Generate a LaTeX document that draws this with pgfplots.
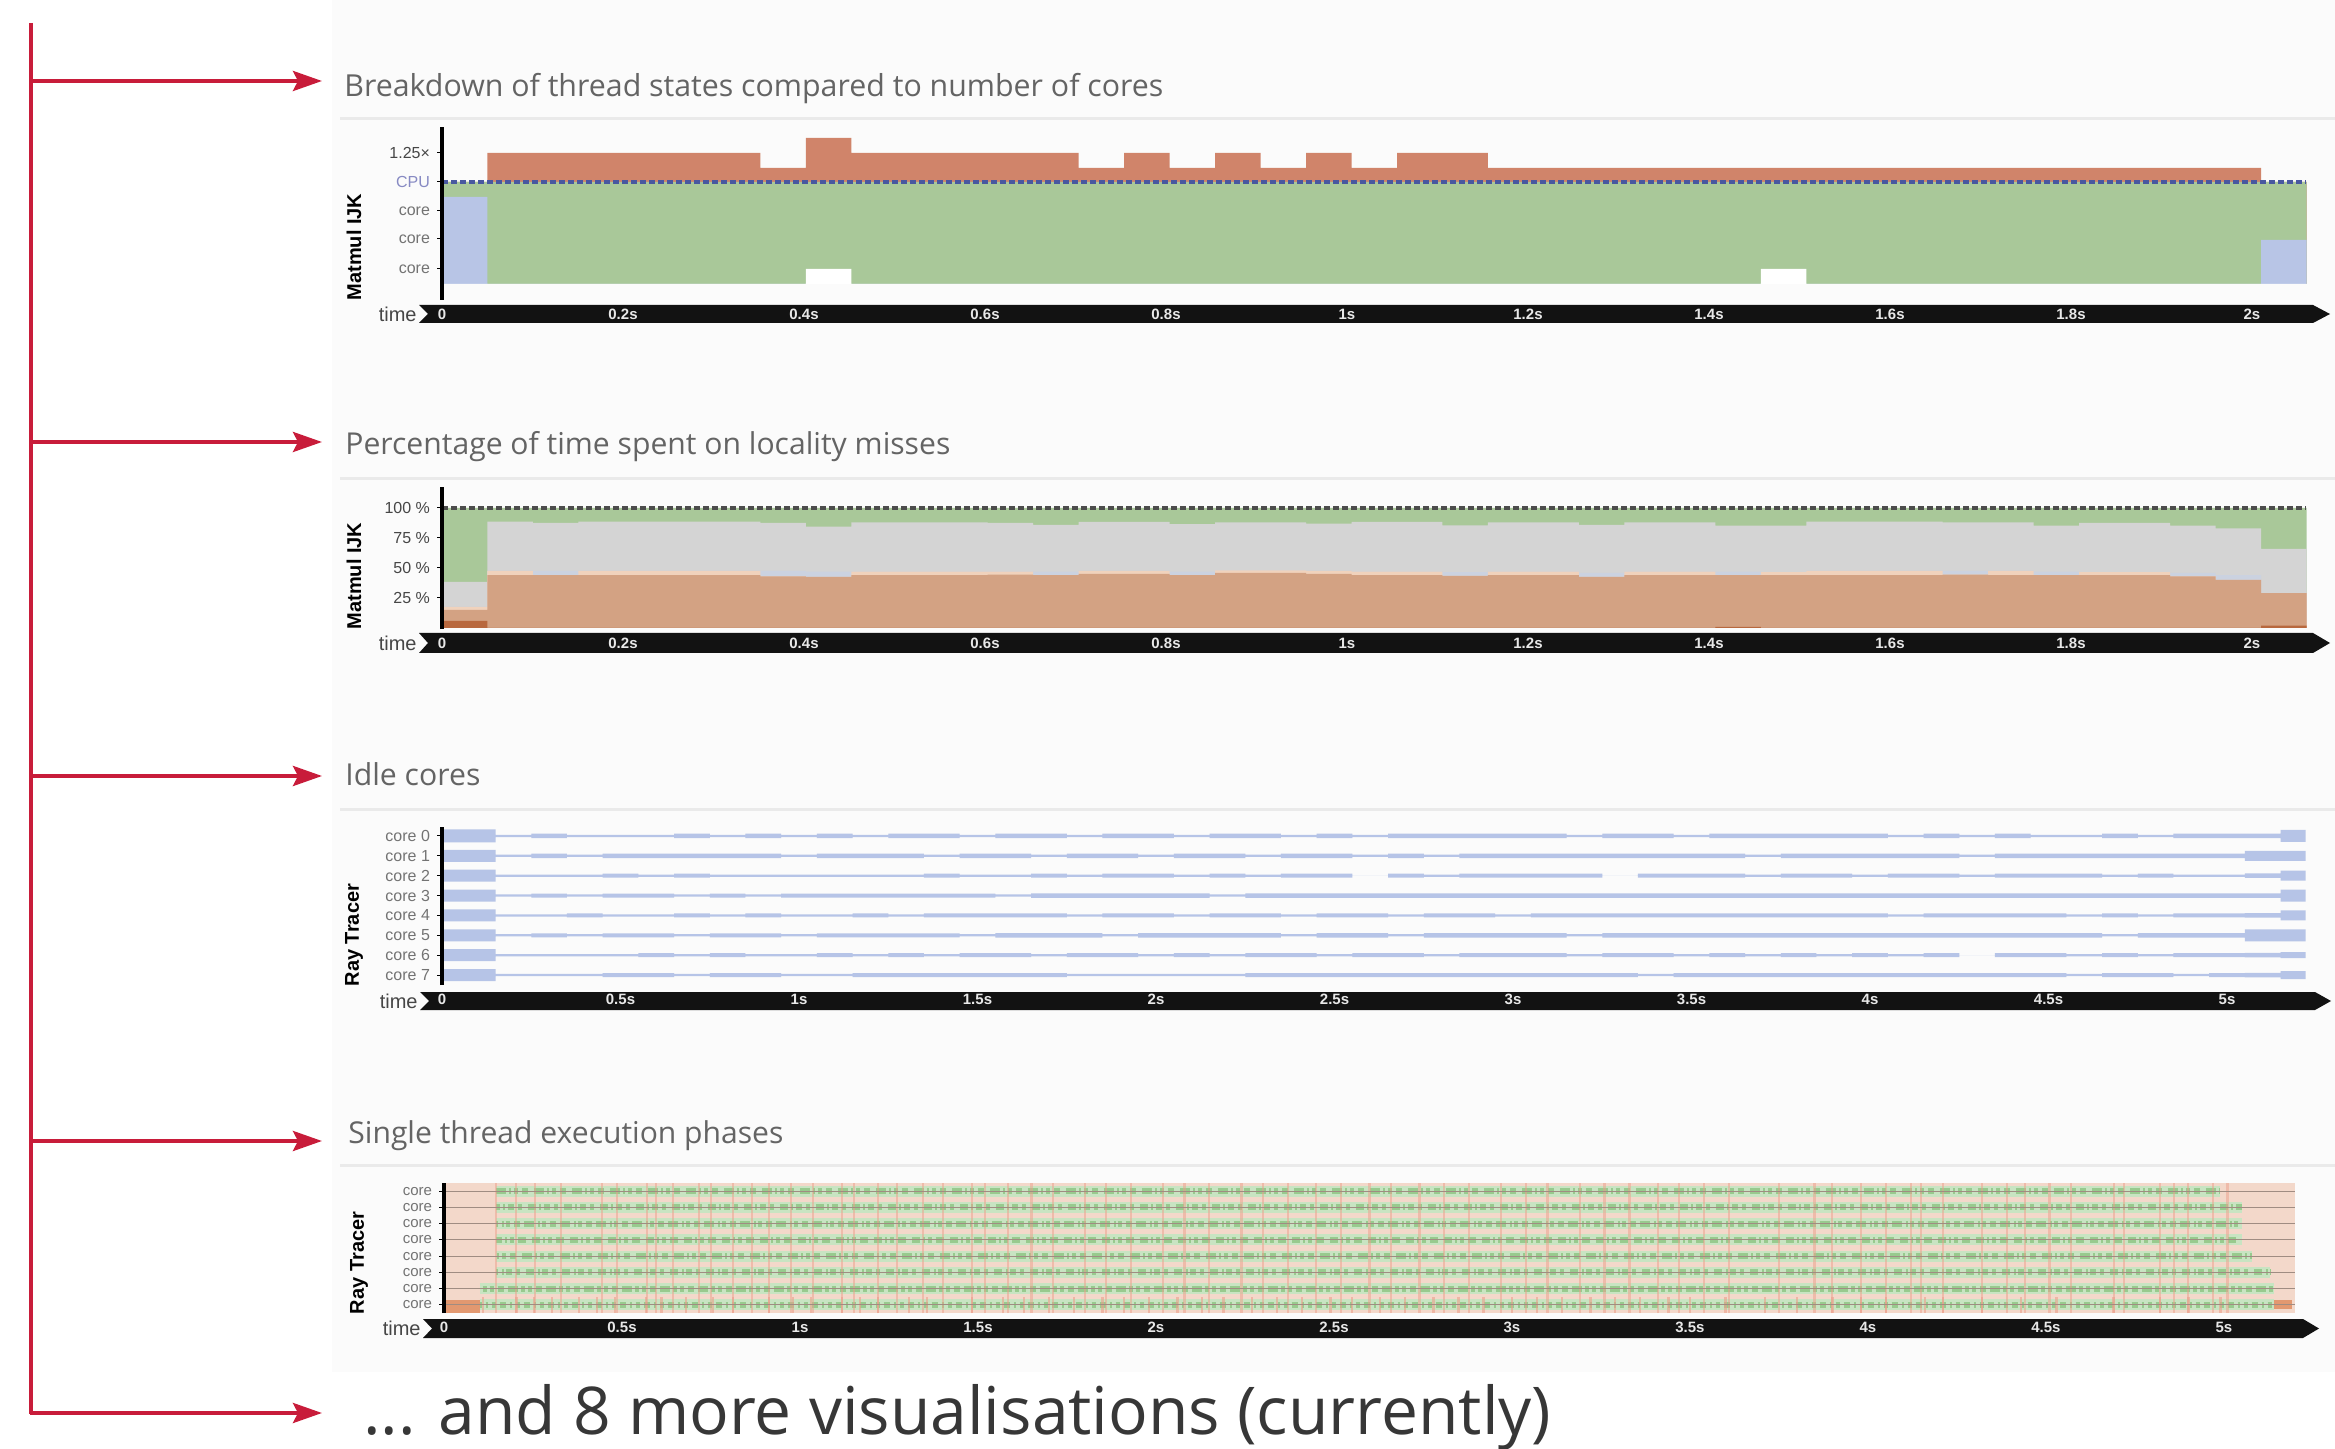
\documentclass[border=0pt]{standalone}
\usepackage{fontspec}
\setmainfont{Liberation Sans}
\newfontfamily\titlefont{Open Sans}
\usepackage{graphicx}
\usepackage{pgfplots}
\pgfplotsset{compat=1.18}
\usepackage{pgfplotstable}
\usetikzlibrary{arrows.meta}

\definecolor{arrowred}{RGB}{200,28,58}
\definecolor{bgcol}{RGB}{251,251,251}
\definecolor{sepgray}{RGB}{234,234,234}
\definecolor{titlegray}{RGB}{100,100,100}
\definecolor{bottomtext}{RGB}{55,55,55}
\definecolor{barblack}{RGB}{18,18,18}
\definecolor{tgreen}{RGB}{169,200,153}
\definecolor{tred}{RGB}{208,132,106}
\definecolor{tblue}{RGB}{184,197,230}
\definecolor{cpublue}{RGB}{72,88,160}
\definecolor{cpulabel}{RGB}{135,138,195}
\definecolor{darklab}{RGB}{70,70,70}
\definecolor{ticklab}{RGB}{115,115,115}
\definecolor{lgray}{RGB}{212,212,212}
\definecolor{ltan}{RGB}{211,162,131}
\definecolor{dorange}{RGB}{184,104,62}
\definecolor{peach}{RGB}{240,210,188}
\definecolor{bgray}{RGB}{203,210,224}
\definecolor{idleblue}{RGB}{182,196,231}
\definecolor{salmonbg}{RGB}{243,216,202}
\definecolor{stripe}{RGB}{236,160,140}
\definecolor{phgreen}{RGB}{200,228,194}
\definecolor{phdash}{RGB}{152,202,142}
\definecolor{phorange}{RGB}{226,152,112}
\definecolor{rowline}{RGB}{160,140,130}
\definecolor{barlab}{RGB}{232,232,232}

% Panel 1: tops of stacked thread-state areas (pixel units above the base)
\pgfplotstableread{
t gap blue green red
0 0 87 102 102
0.05 0 0 102 131
0.35 0 0 102 116
0.40 15 0 102 146
0.45 0 0 102 131
0.70 0 0 102 116
0.75 0 0 102 131
0.80 0 0 102 116
0.85 0 0 102 131
0.90 0 0 102 116
0.95 0 0 102 131
1.00 0 0 102 116
1.05 0 0 102 131
1.15 0 0 102 116
1.45 15 0 102 116
1.50 0 0 102 116
2.00 0 44 102 102
2.05 0 44 102 102
}\threads

% Panel 2: cumulative tops (percent)
\pgfplotstableread{
t a b c d e
0.00 6 15 17.5 17.5 38.5
0.05 0 44 47.5 47.5 88.6
0.10 0 44 44 47.5 87.5
0.15 0 44 47.5 47.5 88.6
0.20 0 44 47.5 47.5 88.6
0.25 0 44 47.5 47.5 88.6
0.30 0 44 47.5 47.5 88.6
0.35 0 43 43 47.5 87.5
0.40 0 42.5 42.5 47 84.4
0.45 0 44 47 47 88
0.50 0 44 47 47 88
0.55 0 44 47 47 88
0.60 0 44.5 47 47 87.5
0.65 0 44 44 47 86
0.70 0 45 47.5 47.5 88.5
0.75 0 45 47.5 47.5 88.5
0.80 0 44 44 47 86.5
0.85 0 46 48 48 88
0.90 0 46 48 48 88
0.95 0 45 47.5 47.5 87
1.00 0 44 47 47 88.5
1.05 0 44 47 47 88.5
1.10 0 43.5 43.5 46.5 85.5
1.15 0 44 47 47 88
1.20 0 44 47 47 88
1.25 0 42.5 42.5 46 86
1.30 0 44 47 47 88
1.35 0 44 47 47 88
1.40 1 44 44 47 85.3
1.45 0 44 46.5 46.5 85.3
1.50 0 44 47.5 47.5 88.6
1.55 0 44 47.5 47.5 88.6
1.60 0 44 47.5 47.5 88.6
1.65 0 44.5 44.5 47.5 88
1.70 0 44 47.5 47.5 88
1.75 0 44 44 47 85.3
1.80 0 44 46.5 46.5 87.5
1.85 0 44 46.5 46.5 87.5
1.90 0 43 43 46 85.3
1.95 0 40 40 44 83
2.00 2 29 29 29 66
2.05 2 29 29 29 66
}\loc

% Panel 3: idle band thickness (px) per core
\pgfplotstableread{
t c0 c1 c2 c3 c4 c5 c6 c7
0 13 12 12 12 12 12 12 12
0.15 2.3 2.3 2.3 2.3 2.3 2.3 2.3 2.3
0.25 4.5 4.5 2.3 4 2.3 4 2.3 2.3
0.35 2.3 2.3 2.3 2.3 4 2.3 2.3 2.3
0.45 2.3 4.5 4 4 2.3 4 2.3 4
0.55 2.3 4.5 2.3 4 2.3 4 4 4
0.65 4.5 4.5 4 2.3 4 2.3 2.3 2.3
0.75 2.3 4.5 2.3 4 2.3 4 4 4
0.85 4.5 4.5 2.3 2.3 4 4 2.3 4
0.95 2.3 2.3 2.3 4 2.3 2.3 2.3 2.3
1.05 4.5 4.5 2.3 4 2.3 4 4 2.3
1.15 2.3 4.5 2.3 4 4 4 2.3 4
1.25 4.5 4.5 2.3 4 2.3 4 4 4
1.35 4.5 2.3 4 4 4 4 2.3 4
1.45 2.3 4.5 2.3 4 4 2.3 4 4
1.55 4.5 4.5 2.3 2.3 4 4.5 4 4
1.65 4.5 2.3 4 4.5 4 4.5 2.3 4
1.75 2.3 4.5 2.3 4.5 2.3 4.5 4 2.3
1.85 4.5 4.5 4 4.5 4 2.3 4 2.3
1.95 4.5 2.3 4 4.5 4 4.5 2.3 2.3
2.05 2.3 4.5 2.3 4.5 2.3 4.5 4 2.3
2.15 4.5 4.5 4 2.3 4 4.5 2.3 2.3
2.25 4.5 2.3 2.3 4.5 4 4.5 4 4
2.35 2.3 4.5 4 4.5 2.3 2.3 4 4
2.45 4.5 4.5 4 4.5 4 4.5 2.3 4
2.55 2.3 2.3 0 4.5 4 4.5 4 4
2.65 4.5 4.5 4 4.5 2.3 2.3 4 4
2.75 4.5 2.3 2.3 4.5 4 4.5 2.3 4
2.85 4.5 4.5 4 4.5 4 4.5 4 4
2.95 4.5 4.5 4 4.5 2.3 4.5 4 4
3.05 4.5 4.5 4 4.5 4 4.5 4 4
3.15 2.3 4.5 4 4.5 4 2.3 2.3 4
3.25 4.5 4.5 0 4.5 4 4.5 4 4
3.35 4.5 4.5 4 4.5 4 4.5 4 2.3
3.45 2.3 4.5 4 4.5 4 4.5 2.3 4
3.55 4.5 4.5 4 4.5 4 4.5 4 4
3.65 4.5 2.3 2.3 4.5 4 4.5 2.3 4
3.75 4.5 4.5 4 4.5 4 4.5 4 4
3.85 4.5 4.5 4 4.5 4 4.5 2.3 4
3.95 4.5 4.5 2.3 4.5 4 4.5 4 4
4.05 2.3 4.5 4 4.5 2.3 4.5 2.3 4
4.15 4.5 4.5 4 4.5 4 4.5 4 4
4.25 2.3 2.3 2.3 4.5 4 4.5 0 4
4.35 4.5 4.5 4 4.5 4 4.5 4 4
4.45 2.3 4.5 4 4.5 4 4.5 4 4
4.55 2.3 4.5 4 4.5 2.3 4.5 2.3 2.3
4.65 4.5 4.5 2.3 4.5 4 2.3 4 4
4.75 2.3 4.5 4 4.5 2.3 4.5 2.3 4
4.85 4.5 4.5 2.3 4.5 4 4.5 4 2.3
4.95 4.5 4.5 2.3 4.5 4 4.5 4 4
5.05 4.5 10 4.5 4.5 4.5 12 4.5 4.5
5.15 12 10 10 12 10 12 6 8
5.22 12 10 10 12 10 12 4 5
}\idle

\pgfplotsset{
  panel/.style={
    scale only axis, anchor=south west, axis on top,
    axis x line*=bottom, axis y line*=left,
    x axis line style={draw=none},
    y axis line style={-, line width=1.7pt, black},
    tick align=outside, major tick length=2.5pt,
    xtick style={draw=none},
    ytick style={black, line width=0.5pt},
    xticklabel style={text=barlab, font=\fontsize{7.5}{8}\selectfont\bfseries, anchor=center, yshift=-4.6pt},
    yticklabel style={font=\fontsize{8}{9}\selectfont, text=ticklab},
    ylabel style={font=\fontsize{10}{11}\selectfont\bfseries, anchor=center, text=black},
  },
}

\newcommand{\timebar}[5]{%
  \fill[barblack] (#1,#4) -- (#2,#4) -- (#3,{(#4+#5)/2}) -- (#2,#5) -- (#1,#5) -- ({#1+9},{(#4+#5)/2}) -- cycle;
  \node[anchor=east, inner sep=0pt, font=\fontsize{10}{11}\selectfont, text=darklab] at ({#1-2},{(#4+#5)/2}) {time};
}

\begin{document}
\begin{tikzpicture}
\begin{scope}[x=0.5pt,y=-0.5pt,shift={(0pt,724pt)}]
  \fill[bgcol] (332,0) rectangle (2335,1372);
  \foreach \yy in {119,479,809,1165} {\draw[sepgray, line width=1.5pt] (340,\yy) -- (2335,\yy);}
  % red guide
  \draw[arrowred, line width=2pt] (31,23) -- (31,1414);
  \foreach \yy in {81,442,776,1141,1413} {
    \draw[arrowred, line width=2pt, -{Stealth[length=14.5pt,width=10pt,inset=2.5pt]}] (30,\yy) -- (322,\yy);
  }
  % titles
  \node[anchor=base west, inner sep=0pt, text=titlegray] at (344,97) {\resizebox{409.5pt}{!}{\titlefont\fontsize{15}{18}\selectfont Breakdown of thread states compared to number of cores}};
  \node[anchor=base west, inner sep=0pt, text=titlegray] at (345,455) {\resizebox{302.5pt}{!}{\titlefont\fontsize{15}{18}\selectfont Percentage of time spent on locality misses}};
  \node[anchor=base west, inner sep=0pt, text=titlegray] at (345,785) {\resizebox{67.5pt}{!}{\titlefont\fontsize{15}{18}\selectfont Idle cores}};
  \node[anchor=base west, inner sep=0pt, text=titlegray] at (348,1143) {\resizebox{217.5pt}{!}{\titlefont\fontsize{15}{18}\selectfont Single thread execution phases}};
  \node[anchor=base west, inner sep=0pt, text=bottomtext] at (363,1434) {\resizebox{594pt}{!}{\titlefont\fontsize{30}{36}\selectfont ... and 8 more visualisations (currently)}};
  % time bars
  \timebar{419}{2313}{2330}{305}{323}
  \timebar{419}{2313}{2330}{633}{653}
  \timebar{420}{2315}{2331}{992}{1010}
  \timebar{423}{2303}{2319}{1319}{1338}
\end{scope}

% ---------- Panel 1 ----------
\begin{axis}[panel, at={(221pt,574pt)}, width=934.4pt, height=86.5pt,
  xmin=0, xmax=2.065, ymin=-16, ymax=157,
  xtick={0,0.2,0.4,0.6,0.8,1,1.2,1.4,1.6,1.8,2},
  xticklabels={0,0.2s,0.4s,0.6s,0.8s,1s,1.2s,1.4s,1.6s,1.8s,2s},
  ytick={15,45,73,102,131},
  yticklabels={core,core,core,{\textcolor{cpulabel}{CPU}},{\textcolor{darklab}{1.25×}}},
  ylabel={Matmul IJK},
  ylabel style={at={(axis description cs:-0.0471,0.306)}}]
\addplot[const plot, fill=tred, draw=none] table[x expr=\thisrow{t}*1.005,y=red]{\threads} \closedcycle;
\addplot[const plot, fill=tgreen, draw=none] table[x expr=\thisrow{t}*1.005,y=green]{\threads} \closedcycle;
\addplot[const plot, fill=tblue, draw=none] table[x expr=\thisrow{t}*1.005,y=blue]{\threads} \closedcycle;
\addplot[const plot, fill=white, draw=none] table[x expr=\thisrow{t}*1.005,y=gap]{\threads} \closedcycle;
\addplot[cpublue, line width=1.6pt, dash pattern=on 3pt off 1.5pt] coordinates {(0,102) (2.06,102)};
\end{axis}

% ---------- Panel 2 ----------
\begin{axis}[panel, at={(221pt,409.4pt)}, width=934.4pt, height=71.1pt,
  xmin=0, xmax=2.065, ymin=-1, ymax=117.5,
  xtick={0,0.2,0.4,0.6,0.8,1,1.2,1.4,1.6,1.8,2},
  xticklabels={0,0.2s,0.4s,0.6s,0.8s,1s,1.2s,1.4s,1.6s,1.8s,2s},
  ytick={25,50,75,100},
  yticklabels={25 \%,50 \%,75 \%,100 \%},
  yticklabel style={text=darklab},
  ylabel={Matmul IJK},
  ylabel style={at={(axis description cs:-0.0471,0.374)}}]
\addplot[const plot, fill=tgreen, draw=none] table[x expr=\thisrow{t}*1.005,y expr=100]{\loc} \closedcycle;
\addplot[const plot, fill=lgray, draw=none] table[x expr=\thisrow{t}*1.005,y=e]{\loc} \closedcycle;
\addplot[const plot, fill=bgray, draw=none] table[x expr=\thisrow{t}*1.005,y=d]{\loc} \closedcycle;
\addplot[const plot, fill=peach, draw=none] table[x expr=\thisrow{t}*1.005,y=c]{\loc} \closedcycle;
\addplot[const plot, fill=ltan, draw=none] table[x expr=\thisrow{t}*1.005,y=b]{\loc} \closedcycle;
\addplot[const plot, fill=dorange, draw=none] table[x expr=\thisrow{t}*1.005,y=a]{\loc} \closedcycle;
\addplot[black!70, line width=1.6pt, dash pattern=on 3pt off 1.5pt] coordinates {(0,100) (2.06,100)};
\end{axis}

% ---------- Panel 3 ----------
\begin{axis}[panel, at={(221pt,231.5pt)}, width=933.9pt, height=79pt,
  xmin=0, xmax=5.232, ymin=-0.5, ymax=7.45,
  xtick={0,0.5,1,1.5,2,2.5,3,3.5,4,4.5,5},
  xticklabels={0,0.5s,1s,1.5s,2s,2.5s,3s,3.5s,4s,4.5s,5s},
  ytick={0,1,2,3,4,5,6,7},
  yticklabels={core 7,core 6,core 5,core 4,core 3,core 2,core 1,core 0},
  ylabel={Ray Tracer},
  ylabel style={at={(axis description cs:-0.0471,0.316)}},
  stack plots=y]
% each core: an invisible gap up to the lower edge, then the idle band
\addplot[const plot, draw=none] table[x=t, y expr={-\thisrow{c7}/39.72}]{\idle} \closedcycle;
\addplot[const plot, fill=idleblue, draw=none] table[x=t, y expr={\thisrow{c7}/19.86}]{\idle} \closedcycle;
\addplot[const plot, draw=none] table[x=t, y expr={1-(\thisrow{c7}+\thisrow{c6})/39.72}]{\idle} \closedcycle;
\addplot[const plot, fill=idleblue, draw=none] table[x=t, y expr={\thisrow{c6}/19.86}]{\idle} \closedcycle;
\addplot[const plot, draw=none] table[x=t, y expr={1-(\thisrow{c6}+\thisrow{c5})/39.72}]{\idle} \closedcycle;
\addplot[const plot, fill=idleblue, draw=none] table[x=t, y expr={\thisrow{c5}/19.86}]{\idle} \closedcycle;
\addplot[const plot, draw=none] table[x=t, y expr={1-(\thisrow{c5}+\thisrow{c4})/39.72}]{\idle} \closedcycle;
\addplot[const plot, fill=idleblue, draw=none] table[x=t, y expr={\thisrow{c4}/19.86}]{\idle} \closedcycle;
\addplot[const plot, draw=none] table[x=t, y expr={1-(\thisrow{c4}+\thisrow{c3})/39.72}]{\idle} \closedcycle;
\addplot[const plot, fill=idleblue, draw=none] table[x=t, y expr={\thisrow{c3}/19.86}]{\idle} \closedcycle;
\addplot[const plot, draw=none] table[x=t, y expr={1-(\thisrow{c3}+\thisrow{c2})/39.72}]{\idle} \closedcycle;
\addplot[const plot, fill=idleblue, draw=none] table[x=t, y expr={\thisrow{c2}/19.86}]{\idle} \closedcycle;
\addplot[const plot, draw=none] table[x=t, y expr={1-(\thisrow{c2}+\thisrow{c1})/39.72}]{\idle} \closedcycle;
\addplot[const plot, fill=idleblue, draw=none] table[x=t, y expr={\thisrow{c1}/19.86}]{\idle} \closedcycle;
\addplot[const plot, draw=none] table[x=t, y expr={1-(\thisrow{c1}+\thisrow{c0})/39.72}]{\idle} \closedcycle;
\addplot[const plot, fill=idleblue, draw=none] table[x=t, y expr={\thisrow{c0}/19.86}]{\idle} \closedcycle;
\end{axis}

% ---------- Panel 4 ----------
\begin{axis}[panel, at={(222pt,67.5pt)}, width=927.9pt, height=65pt,
  xmin=0, xmax=5.213, ymin=0, ymax=8,
  xtick={0,0.5,1,1.5,2,2.5,3,3.5,4,4.5,5},
  xticklabels={0,0.5s,1s,1.5s,2s,2.5s,3s,3.5s,4s,4.5s,5s},
  ytick={0.5,1.5,2.5,3.5,4.5,5.5,6.5,7.5},
  yticklabels={core,core,core,core,core,core,core,core},
  yticklabel style={font=\fontsize{7.5}{8}\selectfont},
  ylabel={Ray Tracer},
  ylabel style={at={(axis description cs:-0.0458,0.385)}}]
\addplot[fill=salmonbg, draw=none] coordinates {(0,8) (5.2,8)} \closedcycle;
% execution phases per thread (start, end)
\addplot[phgreen, line width=5.5pt] coordinates {(0.146,7.5) (4.99,7.5)};
\addplot[phgreen, line width=5.5pt] coordinates {(0.146,6.5) (5.05,6.5)};
\addplot[phgreen, line width=5.5pt] coordinates {(0.146,5.5) (5.05,5.5)};
\addplot[phgreen, line width=5.5pt] coordinates {(0.146,4.5) (5.05,4.5)};
\addplot[phgreen, line width=5.5pt] coordinates {(0.146,3.5) (5.08,3.5)};
\addplot[phgreen, line width=5.5pt] coordinates {(0.146,2.5) (5.13,2.5)};
\addplot[phgreen, line width=5.5pt] coordinates {(0.10,1.5) (5.14,1.5)};
\addplot[phgreen, line width=5.5pt] coordinates {(0.10,0.5) (5.14,0.5)};
\addplot[phdash, line width=3pt, dash pattern=on 5pt off 1.5pt on 1pt off 1.5pt on 2pt off 2pt on 3pt off 3pt] coordinates {(0.146,7.5) (4.99,7.5)};
\addplot[phdash, line width=3pt, dash pattern=on 4pt off 1.5pt on 1pt off 1.5pt on 3pt off 2pt on 2pt off 3pt, dash phase=2pt] coordinates {(0.146,6.5) (5.05,6.5)};
\addplot[phdash, line width=3pt, dash pattern=on 5pt off 2pt on 1pt off 1pt on 2pt off 2pt on 3pt off 2pt, dash phase=4pt] coordinates {(0.146,5.5) (5.05,5.5)};
\addplot[phdash, line width=3pt, dash pattern=on 4pt off 1.5pt on 1pt off 1.5pt on 2pt off 2pt on 4pt off 3pt, dash phase=1pt] coordinates {(0.146,4.5) (5.05,4.5)};
\addplot[phdash, line width=3pt, dash pattern=on 5pt off 1.5pt on 1pt off 1.5pt on 2pt off 2pt on 3pt off 3pt, dash phase=6pt] coordinates {(0.146,3.5) (5.08,3.5)};
\addplot[phdash, line width=3pt, dash pattern=on 4pt off 2pt on 1pt off 1pt on 3pt off 2pt on 2pt off 3pt, dash phase=3pt] coordinates {(0.146,2.5) (5.13,2.5)};
\addplot[phdash, line width=3pt, dash pattern=on 5pt off 1.5pt on 2pt off 1.5pt on 2pt off 2pt on 3pt off 2pt, dash phase=5pt] coordinates {(0.10,1.5) (5.14,1.5)};
\addplot[phdash, line width=3pt, dash pattern=on 3pt off 2pt on 1pt off 2pt on 2pt off 2pt, dash phase=2pt] coordinates {(0.10,0.5) (5.14,0.5)};
% phase switches (vertical stripes)
\addplot[ycomb, stripe, line width=1.1pt, opacity=0.5] coordinates {
(0.146,8) (0.202,8) (0.256,8) (0.329,8) (0.444,8) (0.486,8) (0.570,8) (0.596,8) (0.643,8) (0.716,8)
(0.750,8) (0.812,8) (0.865,8) (0.913,8) (0.975,8) (1.037,8) (1.118,8) (1.152,8) (1.219,8) (1.272,8)
(1.345,8) (1.402,8) (1.483,8) (1.520,8) (1.584,8) (1.65,8) (1.71,8) (1.80,8) (1.86,8) (1.93,8)
(2.02,8) (2.08,8) (2.15,8) (2.24,8) (2.30,8) (2.37,8) (2.45,8) (2.52,8) (2.60,8) (2.66,8)
(2.74,8) (2.81,8) (2.88,8) (2.97,8) (3.04,8) (3.10,8) (3.19,8) (3.26,8) (3.33,8) (3.41,8)
(3.47,8) (3.54,8) (3.61,8) (3.75,8) (3.85,8) (3.90,8) (3.98,8) (4.05,8) (4.12,8) (4.15,8)
(4.21,8) (4.32,8) (4.39,8) (4.44,8) (4.51,8) (4.57,8) (4.69,8) (4.72,8) (4.82,8) (4.86,8)
(4.90,8) (4.97,8) (5.01,8)};
\addplot[ycomb, stripe, line width=1.2pt, opacity=0.6] coordinates {
(0.11,1) (0.204,1) (0.253,1) (0.304,1) (0.379,1) (0.429,1) (0.48,1) (0.568,1) (0.611,1) (0.68,1)
(0.755,1) (0.812,1) (0.913,1) (0.981,1) (1.031,1) (1.118,1) (1.168,1) (1.219,1) (1.307,1) (1.357,1)
(1.483,1) (1.571,1) (1.63,1) (1.70,1) (1.77,1) (1.85,1) (1.91,1) (1.98,1) (2.06,1) (2.13,1)
(2.19,1) (2.27,1) (2.34,1) (2.41,1) (2.49,1) (2.55,1) (2.63,1) (2.70,1) (2.78,1) (2.85,1)
(2.92,1) (3.00,1) (3.07,1) (3.14,1) (3.22,1) (3.29,1) (3.36,1) (3.44,1) (3.50,1) (3.60,1)
(3.71,1) (3.80,1) (3.90,1) (3.98,1) (4.05,1) (4.16,1) (4.21,1) (4.32,1) (4.43,1) (4.53,1)
(4.69,1) (4.82,1) (4.90,1) (4.99,1)};
\addplot[phorange, line width=6.5pt] coordinates {(0,0.4) (0.10,0.4)};
\addplot[phorange, line width=4.5pt] coordinates {(5.14,0.55) (5.19,0.55)};
% thread baselines
\pgfplotsinvokeforeach{0.5,1.5,2.5,3.5,4.5,5.5,6.5,7.5}{
  \addplot[rowline, line width=0.5pt] coordinates {(0,#1) (5.2,#1)};
}
\end{axis}
\pgfresetboundingbox
\path[use as bounding box] (0,0) rectangle (1167.5pt,724pt);
\end{tikzpicture}
\end{document}
